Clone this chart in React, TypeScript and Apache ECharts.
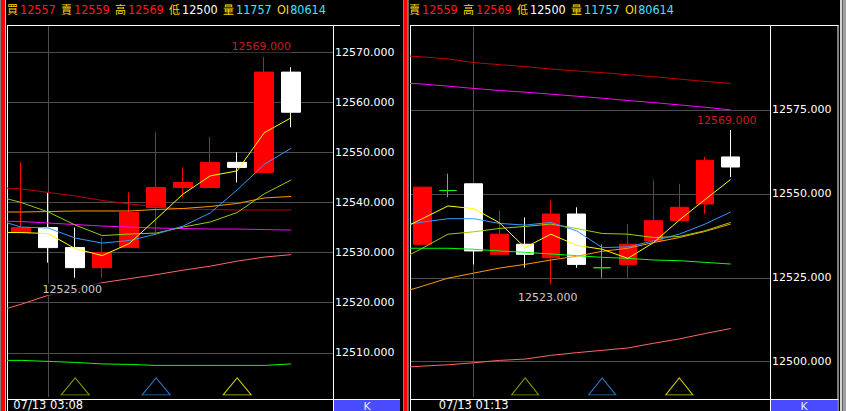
import React, { useEffect, useRef } from 'react';
import * as echarts from 'echarts';

// ---------------- data ----------------
const headerLabels = ['買', '賣', '高', '低', '量', 'OI'];
const headerValues = ['12557', '12559', '12569', '12500', '11757', '80614'];

// left panel
const leftTimeLabel = '07/13 03:08';
const leftTimeIndex = 1;
const leftTicks = [12510, 12520, 12530, 12540, 12550, 12560, 12570];
const leftOpen = [12534, 12535, 12531, 12527, 12531, 12539, 12543, 12543, 12548, 12546, 12566];
const leftClose = [12535, 12531, 12527, 12530, 12538, 12543, 12544, 12548, 12547, 12566, 12558];
const leftLow = [12534, 12528, 12525, 12525, 12531, 12534, 12541, 12543, 12544, 12546, 12555];
const leftHigh = [12548, 12542, 12535, 12533, 12542, 12554, 12547, 12553, 12550, 12569, 12567];
// moving averages, first value belongs to the bar just before the visible window
const leftMaDarkRed = [12543.0, 12542.7, 12542.0, 12541.3, 12540.4, 12539.7, 12539.2, 12538.7, 12538.6, 12538.5, 12538.5, 12538.5];
const leftMaMagenta = [12536.3, 12536.2, 12535.9, 12535.6, 12535.3, 12535.1, 12534.9, 12534.8, 12534.7, 12534.7, 12534.6, 12534.5];
const leftMaSalmon = [12518.1, 12519.7, 12521.5, 12522.6, 12524.0, 12524.8, 12525.6, 12526.5, 12527.3, 12528.3, 12529.1, 12529.6];
const leftMaGreen = [12508.5, 12508.5, 12508.3, 12508.1, 12507.8, 12507.7, 12507.5, 12507.5, 12507.5, 12507.5, 12507.5, 12507.8];
const leftMaOrange = [12538.1, 12538.1, 12538.2, 12538.3, 12538.3, 12538.3, 12538.6, 12538.8, 12539.2, 12539.8, 12540.9, 12541.2];
const leftMaOlive = [12541.4, 12540.0, 12538.1, 12535.5, 12533.4, 12533.7, 12533.9, 12535.1, 12536.1, 12538.0, 12541.7, 12544.5];
const leftMaBlue = [12536.7, 12535.1, 12534.9, 12532.9, 12531.9, 12532.4, 12533.7, 12535.3, 12537.9, 12542.5, 12547.6, 12550.8];
const leftMaYellow = [12534.0, 12534.0, 12533.8, 12530.8, 12529.4, 12531.8, 12536.7, 12541.7, 12545.3, 12546.3, 12553.9, 12556.9];
const leftMarkIdx = [2, 5, 8];

// right panel
const rightTimeLabel = '07/13 01:13';
const rightTimeIndex = 2;
const rightTicks = [12500, 12525, 12550, 12575];
const rightOpen = [12535, 12551, 12553, 12532, 12535, 12531, 12544, 12528, 12529, 12536, 12542, 12547, 12561];
const rightClose = [12552, 12551, 12533, 12538, 12532, 12544, 12529, 12528, 12535, 12542, 12546, 12560, 12558];
const rightLow = [12535, 12549, 12529, 12532, 12528, 12523, 12528, 12525, 12525, 12536, 12542, 12544, 12555];
const rightHigh = [12552, 12556, 12553, 12545, 12543, 12548, 12546, 12535, 12541, 12554, 12553, 12561, 12569];
const rightMaDarkRed = [12591.3, 12590.8, 12590.2, 12589.1, 12588.5, 12587.9, 12587.2, 12586.6, 12586.1, 12585.5, 12584.9, 12584.2, 12583.5, 12582.9];
const rightMaMagenta = [12583.2, 12582.7, 12582.1, 12581.4, 12580.8, 12580.3, 12579.7, 12579.1, 12578.5, 12577.8, 12577.2, 12576.5, 12575.8, 12575.0];
const rightMaSalmon = [12498.2, 12498.7, 12499.1, 12499.7, 12500.4, 12500.8, 12501.9, 12502.7, 12503.4, 12504.1, 12505.5, 12506.8, 12508.4, 12509.9];
const rightMaGreen = [12533.8, 12533.8, 12533.8, 12533.5, 12533.0, 12532.6, 12532.1, 12531.6, 12531.1, 12530.8, 12530.3, 12530.1, 12529.6, 12529.1];
const rightMaOrange = [12520.2, 12522.5, 12524.9, 12526.4, 12527.9, 12529.0, 12530.3, 12531.4, 12532.9, 12533.8, 12535.5, 12537.0, 12538.8, 12541.0];
const rightMaOlive = [12529.9, 12533.8, 12538.0, 12538.7, 12539.7, 12540.3, 12541.0, 12539.7, 12538.2, 12538.0, 12537.0, 12537.3, 12539.0, 12541.5];
const rightMaBlue = [12540.2, 12541.6, 12542.6, 12542.6, 12541.2, 12540.7, 12541.5, 12539.0, 12534.0, 12534.2, 12536.0, 12538.0, 12541.0, 12544.6];
const rightMaYellow = [12538.9, 12542.6, 12546.4, 12545.6, 12541.4, 12534.0, 12538.0, 12534.7, 12533.5, 12530.8, 12535.5, 12542.2, 12548.3, 12554.3];
const rightMarkIdx = [4, 7, 10];

// ---------------- styles ----------------
const UP = '#ff0000';
const DOWN = '#ffffff';
const DOJI = '#00ff00';
const GRID = '#4d4d4d';
const MA_COLORS = ['#c00000', '#ff00ff', '#ff6464', '#00ff00', '#ff9900', '#99cc00', '#3399ff', '#ffff00'];
const MARK_COLORS = ['#99cc00', '#3399ff', '#ffff00'];
const NUM_FONT = 'DejaVu Sans';
const LATIN_NARROW = "'Liberation Sans Narrow', 'DejaVu Sans Condensed', 'Liberation Sans', sans-serif";

const panels = [
  {
    open: leftOpen, close: leftClose, low: leftLow, high: leftHigh,
    mas: [leftMaDarkRed, leftMaMagenta, leftMaSalmon, leftMaGreen, leftMaOrange, leftMaOlive, leftMaBlue, leftMaYellow],
    ticks: leftTicks, timeLabel: leftTimeLabel, timeIndex: leftTimeIndex, markIdx: leftMarkIdx,
    grid: { left: 8, top: 26, width: 325, height: 373 },
    xMin: -0.49, xMax: 11.55, yMin: 12501.2, yMax: 12575.2,
    barWidth: 20, triW: 28,
    hiLabel: { distance: 4, offset: [-3, 0] }, loLabel: { distance: 5, offset: [-3, 0] },
  },
  {
    open: rightOpen, close: rightClose, low: rightLow, high: rightHigh,
    mas: [rightMaDarkRed, rightMaMagenta, rightMaSalmon, rightMaGreen, rightMaOrange, rightMaOlive, rightMaBlue, rightMaYellow],
    ticks: rightTicks, timeLabel: rightTimeLabel, timeIndex: rightTimeIndex, markIdx: rightMarkIdx,
    grid: { left: 411, top: 26, width: 359, height: 373 },
    xMin: -0.44, xMax: 13.53, yMin: 12489.5, yMax: 12600,
    barWidth: 18, triW: 27,
    hiLabel: { distance: 3, offset: [-4, 0] }, loLabel: { distance: 6, offset: [-3, 0] },
  },
];

function buildOption() {
  const xAxis: any[] = [];
  const yAxis: any[] = [];
  const series: any[] = [];

  panels.forEach((p, gi) => {
    xAxis.push({
      type: 'value', gridIndex: gi, min: p.xMin, max: p.xMax,
      axisLine: { show: false },
      axisTick: { show: false, customValues: [p.timeIndex] },
      axisLabel: {
        customValues: [p.timeIndex], formatter: () => p.timeLabel,
        color: '#ffffff', fontFamily: NUM_FONT, fontSize: 11.5, margin: 2,
      },
      splitLine: { show: true, lineStyle: { color: GRID, width: 1 } },
    });
    yAxis.push({
      type: 'value', gridIndex: gi, position: 'right', min: p.yMin, max: p.yMax,
      axisLine: { show: false },
      axisTick: { show: false, customValues: p.ticks },
      axisLabel: {
        customValues: p.ticks, formatter: (v: number) => v.toFixed(3),
        color: '#ffffff', fontFamily: NUM_FONT, fontSize: 11, margin: 2,
      },
      splitLine: { show: true, lineStyle: { color: GRID, width: 1 } },
    });

    // moving averages
    p.mas.forEach((arr, k) => {
      series.push({
        type: 'line', xAxisIndex: gi, yAxisIndex: gi, silent: true,
        symbol: 'none', showSymbol: false, z: 3,
        lineStyle: { color: MA_COLORS[k], width: 1 },
        data: arr.map((v, i) => [i - 1, v]),
      });
    });

    // candles
    const candles = p.open.map((o, i) => {
      const item: any = { value: [i, o, p.close[i], p.low[i], p.high[i]] };
      if (o === p.close[i]) {
        item.itemStyle = { color: DOJI, color0: DOJI, borderColor: DOJI, borderColor0: DOJI, borderColorDoji: DOJI };
      }
      return item;
    });
    series.push({
      type: 'candlestick', xAxisIndex: gi, yAxisIndex: gi, silent: true, z: 2,
      barWidth: p.barWidth,
      itemStyle: { color: UP, color0: DOWN, borderColor: UP, borderColor0: DOWN, borderWidth: 1 },
      data: candles,
    });

    // hi / lo labels
    const hiVal = Math.max(...p.high);
    const hiIdx = p.high.indexOf(hiVal);
    const loVal = Math.min(...p.low);
    const loIdx = p.low.indexOf(loVal);
    const lblBase = { show: true, fontFamily: NUM_FONT, fontSize: 11, lineHeight: 12, backgroundColor: '#000000', padding: [0, 1] };
    series.push({
      type: 'scatter', xAxisIndex: gi, yAxisIndex: gi, silent: true, z: 6,
      symbol: 'circle', symbolSize: 1, itemStyle: { color: 'rgba(0,0,0,0)' },
      data: [
        { value: [hiIdx, hiVal], label: { ...lblBase, position: 'top', color: '#ff2020', ...p.hiLabel, formatter: () => hiVal.toFixed(3) } },
        { value: [loIdx, loVal], label: { ...lblBase, position: 'bottom', color: '#ffffff', ...p.loLabel, formatter: () => loVal.toFixed(3) } },
      ],
    });

    // triangle markers near the bottom
    const yTri = p.yMin + (p.yMax - p.yMin) * (10.7 / 373);
    series.push({
      type: 'scatter', xAxisIndex: gi, yAxisIndex: gi, silent: true, z: 4,
      symbol: 'triangle', symbolSize: [p.triW, 17],
      data: p.markIdx.map((idx, k) => ({
        value: [idx, yTri],
        itemStyle: { color: 'rgba(0,0,0,0)', borderColor: MARK_COLORS[k], borderWidth: 1 },
      })),
    });
  });

  // ---------- chrome (frame, header) ----------
  const H = 411;
  const rect = (x: number, y: number, w: number, h: number, fill: string) =>
    ({ type: 'rect', silent: true, shape: { x, y, width: w, height: h }, style: { fill } });
  const line = (x1: number, y1: number, x2: number, y2: number, stroke = '#ffffff') =>
    ({ type: 'line', silent: true, shape: { x1, y1, x2, y2 }, style: { stroke, lineWidth: 1 } });

  const valStyle = ['r', 'r', 'r', 'w', 'c', 'c'];
  const rich = {
    l: { fill: '#ffd800', fontFamily: 'Noto Sans CJK TC', fontSize: 11, padding: [0, 2, 0, 0] },
    lo: { fill: '#ffd800', fontFamily: LATIN_NARROW, fontSize: 12.5, padding: [0, 1, 0, 0] },
    r: { fill: '#ff1a1a', fontFamily: LATIN_NARROW, fontSize: 12.5 },
    w: { fill: '#ffffff', fontFamily: LATIN_NARROW, fontSize: 12.5 },
    c: { fill: '#3fe4ff', fontFamily: LATIN_NARROW, fontSize: 12.5 },
  };
  const headerItem = (i: number, x: number) => ({
    type: 'text', silent: true, x, y: 9, z: 10,
    style: {
      text: `{${headerLabels[i] === 'OI' ? 'lo' : 'l'}|${headerLabels[i]}}{${valStyle[i]}|${headerValues[i]}}`,
      rich, fill: '#ffffff', verticalAlign: 'middle', align: 'left',
    },
  });
  const header: any[] = [];
  headerLabels.forEach((_, i) => header.push(headerItem(i, 7 + i * 54)));
  headerLabels.forEach((_, i) => { if (i > 0) header.push(headerItem(i, 409 + (i - 1) * 54)); });

  const kText = (cx: number) => ({
    type: 'text', silent: true, x: cx, y: 406,
    style: { text: 'K', fill: '#e8e8ff', fontFamily: NUM_FONT, fontSize: 11, align: 'center', verticalAlign: 'middle' },
  });

  const graphic = [
    rect(0, 0, 1, H, '#808080'), rect(1, 0, 4, H, '#ff0000'), rect(5, 0, 1, H, '#c8c8c8'),
    rect(403, 0, 1, H, '#808080'), rect(404, 0, 3.5, H, '#ff0000'), rect(407.5, 0, 1, H, '#c8c8c8'),
    rect(840, 0, 6, H, '#a0a0a0'), rect(840, 0, 2, H, '#d4d4d4'), rect(842, 0, 1, H, '#606060'),
    // left frame
    line(7, 25.5, 400, 25.5), line(7.5, 25, 7.5, H), line(333.5, 25, 333.5, H), line(7, 399.5, 400, 399.5),
    // right frame
    line(410, 25.5, 838.5, 25.5), line(410.5, 25, 410.5, H), line(770.5, 25, 770.5, H), line(838, 25, 838, H), line(410, 399.5, 838.5, 399.5),
    rect(334, 400, 66, 11, '#4a4aff'), rect(771, 400, 66.5, 11, '#4a4aff'),
    kText(367), kText(804),
    ...header,
  ];

  return {
    backgroundColor: '#000000',
    animation: false,
    grid: panels.map((p) => ({ ...p.grid, containLabel: false })),
    xAxis, yAxis, series, graphic,
  };
}

export default function App() {
  const ref = useRef<HTMLDivElement>(null);
  useEffect(() => {
    if (!ref.current) return;
    const chart = echarts.init(ref.current, null, { renderer: 'svg' });
    chart.setOption(buildOption() as any);
    return () => chart.dispose();
  }, []);
  return (
    <div
      ref={ref}
      style={{ position: 'fixed', left: 0, top: 0, width: 846, height: 411, background: '#000' }}
    />
  );
}
